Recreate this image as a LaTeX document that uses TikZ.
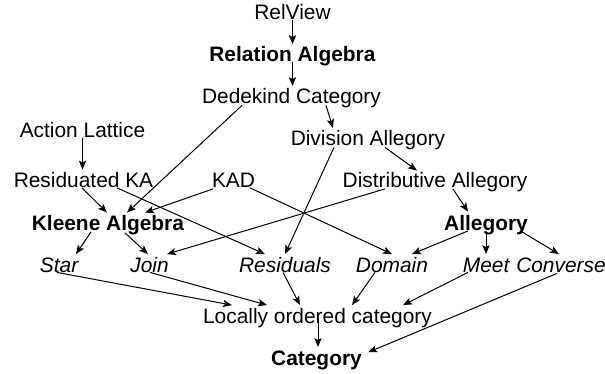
\documentclass[tikz,border=0pt]{standalone}
\usepackage{fontspec}
\setmainfont{Liberation Sans}
\usetikzlibrary{arrows.meta,calc}

\tikzset{
  lbl/.style={inner sep=0pt, text height=8.75pt, text depth=0pt, anchor=base,
    font=\fontsize{10.45}{12}\selectfont},
  arr/.style={-{Stealth[length=4.5pt,width=3.6pt,inset=1pt]}, line width=0.5pt}
}

\begin{document}
\begin{tikzpicture}[x=0.5pt,y=-0.5pt]
\useasboundingbox (0,0) rectangle (605,374);
% nodes, placed at their baselines
\node[lbl] (relview)   at (292.5,20)  {RelView};
\node[lbl] (relalg)    at (292.5,62)  {\textbf{Relation Algebra}};
\node[lbl] (dedekind)  at (291.5,104) {Dedekind Category};
\node[lbl] (action)    at (82.5,138)  {Action Lattice};
\node[lbl] (division)  at (368,146)   {Division Allegory};
\node[lbl] (resKA)     at (83.5,187.5){Residuated KA};
\node[lbl] (kad)       at (233.5,187.5){KAD};
\node[lbl] (distrib)   at (435,187.5) {Distributive Allegory};
\node[lbl] (kleene)    at (108,230.5) {\textbf{Kleene Algebra}};
\node[lbl] (allegory)  at (486,230.5) {\textbf{Allegory}};
\node[lbl] (star)      at (59.5,272)  {\textit{Star}};
\node[lbl] (join)      at (149.5,272) {\textit{Join}};
\node[lbl] (residuals) at (285,272)   {\textit{Residuals}};
\node[lbl] (domain)    at (392,272)   {\textit{Domain}};
\node[lbl] (meet)      at (486.5,272) {\textit{Meet}};
\node[lbl] (converse)  at (561,272)   {\textit{Converse}};
\node[lbl] (locally)   at (317.5,323) {Locally ordered category};
\node[lbl] (category)  at (316.5,365) {\textbf{Category}};

% top part
\draw[arr] (relview.south) -- (relview.south |- relalg.north);
\draw[arr] (relalg.south) -- (relalg.south |- dedekind.north);
\draw[arr] ($(dedekind.south)+(-49.5,1)$) -- ($(kleene.north)+(19,0)$);
\draw[arr] ($(dedekind.south)+(34.5,1)$) -- ($(division.north)+(-35,0)$);
\draw[arr] (action.south) -- (action.south |- resKA.north);
\draw[arr] ($(resKA.south)+(-1.5,0)$) -- ($(kleene.north)+(-1,0)$);
\draw[arr] ($(resKA.south)+(33.5,0)$) -- ($(residuals.north)+(-20,0)$);
\draw[arr] ($(kad.south)+(-20.5,1)$) -- ($(kleene.north)+(37,0)$);
\draw[arr] ($(kad.south)+(16.5,0)$) -- (domain.north);
\draw[arr] ($(division.south)+(17,1)$) -- ($(distrib.north)+(-18,1)$);
\draw[arr] ($(division.south)+(-34,1)$) -- (residuals.north);
\draw[arr] ($(distrib.south)+(-50,1)$) -- ($(join.north)+(17.5,0)$);
\draw[arr] ($(distrib.south)+(18,1)$) -- ($(allegory.north)+(-18,-1)$);

% middle part
\draw[arr] ($(kleene.south)+(-17,1)$) -- ($(star.north)+(16.5,0)$);
\draw[arr] ($(kleene.south)+(17,2)$) -- ($(join.north)+(-1.5,0)$);
\draw[arr] ($(allegory.south)+(-18,0)$) -- ($(domain.north)+(20,0)$);
\draw[arr] ($(allegory.south)+(0,2)$) -- (allegory.south |- meet.north);
\draw[arr] ($(allegory.south)+(36,1)$) -- ($(converse.north)+(-2,0)$);

% bottom part
\draw[arr] ($(star.south)+(-2.5,0)$) -- ($(locally.north)+(-85.5,0)$);
\draw[arr] ($(join.south)+(0.5,0)$) -- ($(locally.north)+(-50.5,0)$);
\draw[arr] ($(residuals.south)+(-2,0)$) -- ($(locally.north)+(-17.5,0)$);
\draw[arr] ($(domain.south)+(-17,0)$) -- ($(locally.north)+(34.5,0)$);
\draw[arr] ($(meet.south)+(-18.5,0)$) -- ($(locally.north)+(85.5,0)$);
\draw[arr] ($(locally.south)+(0.5,-5)$) -- ($(category.north)+(1.5,0)$);
\draw[arr] ($(converse.south)+(-4,1)$) -- ($(category.east)+(6,-4)$);
\end{tikzpicture}
\end{document}
